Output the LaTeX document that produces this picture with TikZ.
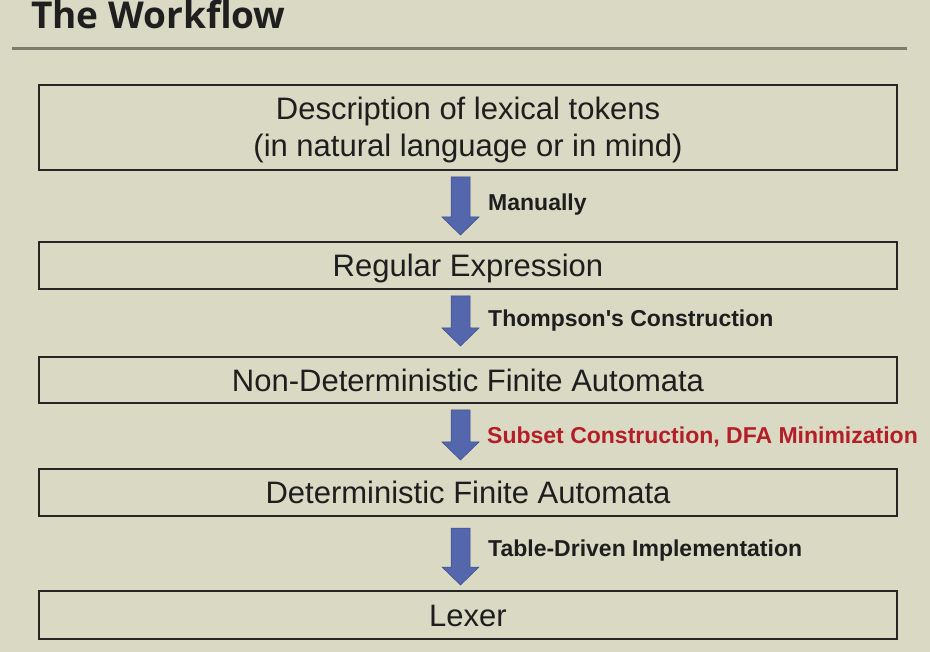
\documentclass[tikz,border=0pt]{standalone}
\usepackage{fontspec}
\setmainfont{Liberation Sans}
\newfontfamily\titlefont{Open Sans}
\usetikzlibrary{calc}
\definecolor{bgc}{RGB}{217,217,196}
\definecolor{rulec}{RGB}{125,125,110}
\definecolor{arrfill}{RGB}{84,102,172}
\definecolor{arrdraw}{RGB}{60,75,140}
\definecolor{txt}{RGB}{30,30,30}
\definecolor{redtxt}{RGB}{180,30,40}
\tikzset{
  stage/.style={draw=black!85, line width=1.6pt, minimum width=858pt, inner sep=0pt,
    text=txt, font=\fontsize{31}{37}\selectfont, align=center, text height=22.2pt, text depth=0pt},
  lbl/.style={anchor=west, inner sep=0pt, font=\bfseries\fontsize{23}{26}\selectfont, text=txt,
    text height=16.5pt, text depth=0pt},
  blockarrow/.style={fill=arrfill, draw=arrdraw, line width=0.5pt, line join=miter},
}
\newcommand{\blkarrow}[2]{% top y, tip y
  \path[blockarrow] (451,#1) -- (470,#1) -- (470,#2-18) -- (479,#2-18) -- (460.5,#2)
    -- (442,#2-18) -- (451,#2-18) -- cycle;}
\begin{document}
\begin{tikzpicture}[x=1pt,y=-1pt]
\fill[bgc] (0,0) rectangle (930,652);
\useasboundingbox (0,0) rectangle (930,652);
\node[anchor=base west, inner sep=0pt, text=black!88, font=\titlefont\bfseries\fontsize{37}{42}\selectfont] (title) at (31,29) {The Workflow};
\coordinate (rl) at (12,49);
\coordinate (rr) at (907,49);
\draw[rulec, line width=3pt] (rl) -- (rr);

\node[stage, minimum height=85pt, text height=59pt, text depth=0pt] (b1) at (468,127.5) {Description of lexical tokens\\(in natural language or in mind)};
\node[stage, minimum height=47pt] (b2) at (468,265.5) {Regular Expression};
\node[stage, minimum height=46pt] (b3) at (468,380) {Non-Deterministic Finite Automata};
\node[stage, minimum height=47pt] (b4) at (468,492.5) {Deterministic Finite Automata};
\node[stage, minimum height=48pt] (b5) at (468,615) {Lexer};

\blkarrow{177}{235}
\blkarrow{296}{346}
\blkarrow{410}{460}
\blkarrow{528}{585}

\node[lbl] (l1) at (488,202) {Manually};
\node[lbl] (l2) at (488,318.3) {\addfontfeature{Ligatures=TeXOff}Thompson's Construction};
\node[lbl, text=redtxt] (l3) at (487,435.3) {Subset Construction, DFA Minimization};
\node[lbl] (l4) at (488,548.3) {Table-Driven Implementation};
\end{tikzpicture}
\end{document}
